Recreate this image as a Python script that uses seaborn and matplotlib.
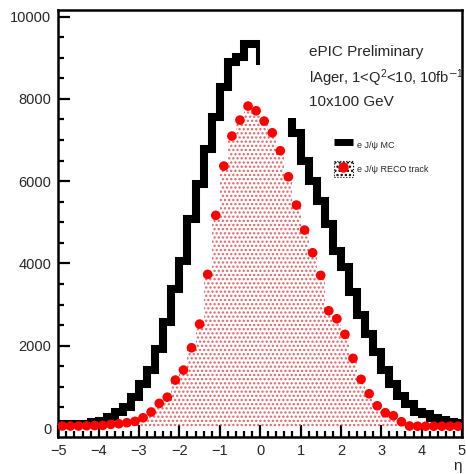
import matplotlib
matplotlib.use("Agg")
import matplotlib.pyplot as plt
import seaborn as sns
from matplotlib.lines import Line2D
from matplotlib.patches import Patch, Rectangle
from matplotlib.ticker import MultipleLocator

# ==========================================
# data: eta histograms, 50 bins of 0.2 in [-5, 5]
# ==========================================
eta_range = (-5, 5)
bin_width = 0.2
eta_centers = [-4.9, -4.7, -4.5, -4.3, -4.1, -3.9, -3.7, -3.5, -3.3, -3.1,
               -2.9, -2.7, -2.5, -2.3, -2.1, -1.9, -1.7, -1.5, -1.3, -1.1,
               -0.9, -0.7, -0.5, -0.3, -0.1, 0.1, 0.3, 0.5, 0.7, 0.9,
               1.1, 1.3, 1.5, 1.7, 1.9, 2.1, 2.3, 2.5, 2.7, 2.9,
               3.1, 3.3, 3.5, 3.7, 3.9, 4.1, 4.3, 4.5, 4.7, 4.9]
mc_counts = [90, 95, 100, 110, 140, 177, 260, 380, 503, 746,
             1069, 1409, 1910, 2576, 3378, 4066, 5079, 5930, 6780, 7550,
             8280, 8887, 9009, 9332, 9340, 8920, 8600, 8150, 7750, 7170,
             6496, 6010, 5524, 4957, 4309, 3905, 3298, 2750, 2284, 1840,
             1409, 1069, 785, 583, 400, 330, 240, 200, 150, 120]
reco_counts = [50, 50, 50, 55, 60, 65, 90, 105, 130, 163,
               250, 390, 600, 750, 1166, 1409, 1951, 2527, 3735, 5169,
               6367, 7096, 7485, 7825, 7711, 7460, 7176, 6740, 6107, 5419,
               4812, 4260, 3711, 2851, 2656, 2277, 1694, 1185, 834, 542,
               372, 300, 153, 50, 45, 45, 45, 45, 45, 45]

sns.set_style("ticks")
plt.rcParams['font.family'] = ['Liberation Sans', 'DejaVu Sans']
plt.rcParams['mathtext.fontset'] = 'custom'
plt.rcParams['mathtext.rm'] = 'Liberation Sans'
plt.rcParams['mathtext.it'] = 'Liberation Sans:italic'
plt.rcParams['hatch.linewidth'] = 1.1

fig = plt.figure(figsize=(4.66, 4.74), dpi=100)
W, H = 466, 474
x0, x1, y0, y1 = 58.3, 462, 10, 436.7
ax = fig.add_axes([x0 / W, 1 - y1 / H, (x1 - x0) / W, (y1 - y0) / H])

hatch_red = (0.86, 0.25, 0.27, 0.8)

# RECO: dotted red fill under the histogram
sns.histplot(x=eta_centers, weights=reco_counts, binwidth=bin_width, binrange=eta_range,
             element='step', fill=True, color='#e8383d', facecolor='none',
             edgecolor=hatch_red, hatch='....', linewidth=0, ax=ax, zorder=1)

# MC: thick black step line
sns.histplot(x=eta_centers, weights=mc_counts, binwidth=bin_width, binrange=eta_range,
             element='step', fill=False, color='black', linewidth=5.8, ax=ax,
             zorder=3, solid_joinstyle='miter', solid_capstyle='butt')

# white text pave covering part of the histogram
ax.add_patch(Rectangle((0.5, 0.746), 0.49, 0.25, transform=ax.transAxes,
                       facecolor='white', edgecolor='none', zorder=4))

# RECO markers
sns.scatterplot(x=eta_centers, y=reco_counts, color='red', s=48,
                edgecolor='none', ax=ax, zorder=5)

ax.set_xlim(-5, 5)
ax.set_ylim(-210, 10160)
ax.xaxis.set_major_locator(MultipleLocator(1))
ax.xaxis.set_minor_locator(MultipleLocator(0.2))
ax.yaxis.set_major_locator(MultipleLocator(2000))
ax.yaxis.set_minor_locator(MultipleLocator(500))
ax.tick_params(which='both', direction='in', top=False, right=False,
               width=1.6, labelsize=10.5, color='black')
ax.tick_params(which='major', length=8.5, pad=5)
ax.tick_params(which='minor', length=4.3)
for sp in ax.spines.values():
    sp.set_linewidth(1.8)
    sp.set_color('black')
ax.set_ylabel('')
ax.set_xlabel('η', loc='right', fontsize=11, labelpad=1)


def ax_pos(px, py):
    return (px - x0) / (x1 - x0), (y1 - py) / (y1 - y0)


for label, py, fs in [("ePIC Preliminary", 51.7, 11),
                      ("lAger, 1<Q$^{2}$<10, 10fb$^{\\mathsf{-}1}$", 78.3, 10.6),
                      ("10x100 GeV", 101.7, 11)]:
    tx, ty = ax_pos(309, py)
    ax.text(tx, ty, label, transform=ax.transAxes, ha='left', va='center',
            fontsize=fs, zorder=6)

handles = [Line2D([], [], color='black', linewidth=5, solid_capstyle='butt'),
           (Patch(facecolor='white', edgecolor='black', hatch='....',
                  linestyle=':', linewidth=0.8),
            Line2D([], [], marker='o', color='red', markersize=6.5, linestyle='none'))]
lx, ly = ax_pos(334, 137)
ax.legend(handles, ["e J/ψ MC", "e J/ψ RECO track"], loc='upper left',
          bbox_to_anchor=(lx, ly), frameon=False, fontsize=6.5,
          handlelength=2.1, handleheight=2.3, labelspacing=0.95,
          handletextpad=0.45, borderaxespad=0, borderpad=0)

fig.savefig("out.png", dpi=100)
plt.close(fig)
